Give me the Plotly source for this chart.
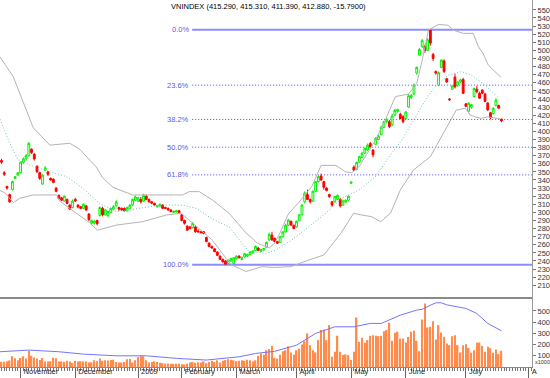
import plotly.graph_objects as go

# ---------------- data ----------------
# trading-day index: 0 = 3 Nov 2008 (first session of November)
day_idx = list(range(-7, 177))

opens = [
    364, 349, 332, 322, 328, 342, 346,                      # late Oct
    349, 362, 366, 370, 378, 372, 357, 349, 335, 352,       # Nov
    350, 342, 341, 330, 321, 318, 314, 316, 309, 306,
    316, 309, 307, 305, 308, 298, 287, 287, 290, 296,       # Dec
    305, 297, 296, 300, 304, 308, 306, 305, 305, 302,
    305, 309, 315,
    314, 316, 314, 320, 316, 313, 311, 307, 308, 309,       # Jan
    306, 305, 303, 300, 300.5, 302,
    297, 290, 283, 282, 281, 282, 277, 276, 276, 269,       # Feb
    262, 258, 255, 251, 246, 242, 240, 237, 240, 237,
    243, 246, 242, 245, 246, 248, 250, 253, 256, 252,       # Mar
    254, 257, 266, 272, 268, 264, 263, 270, 276, 284,
    289, 284,
    282, 290, 297, 313, 322, 316, 314, 326, 338, 345,       # Apr
    338, 330, 322, 313, 313, 316, 316, 309, 313, 315,
    336, 356, 353, 362, 368, 373, 377, 385, 377, 384,       # May
    390, 396, 405, 412, 412, 408, 420, 425, 421, 418,
    416, 430, 442, 446, 472, 494, 505, 505, 500, 525,       # Jun
    495, 474, 457, 479, 487, 465, 440, 452, 467, 457,
    461, 464,
    434, 425, 430, 443, 452, 447, 451, 446, 435, 423,       # Jul
    422, 432, 432, 415.29,
]
highs = [
    366, 351, 333, 323, 339, 345, 350,
    363, 368, 372, 387, 379, 373, 358, 350, 347, 357,
    351, 343, 342, 331, 322, 319, 321, 317, 310, 316,
    318, 310, 308, 311, 309, 299, 291, 290, 291, 307,
    307, 304, 302, 306, 309, 315, 307, 306, 306, 307,
    310, 317, 321,
    319, 319, 323, 322, 317, 314, 312, 309, 311, 310,
    307, 306, 304, 302, 303, 303,
    298, 291, 284, 283, 288, 283, 279, 277, 277, 270,
    263, 259, 256, 252, 247, 243, 241, 242, 244, 245,
    247, 247, 245, 250, 249, 252, 253, 259, 257, 255,
    256, 264, 275, 276, 269, 265, 271, 277, 286, 292,
    290, 285,
    290, 298, 310, 326, 328, 317, 327, 339, 346, 348,
    339, 331, 323, 314, 320, 322, 318, 316, 316, 321,
    338, 358, 363, 370, 375, 380, 385, 387, 378, 393,
    396, 407, 413, 417, 414, 422, 428, 428, 423, 420,
    425, 446, 446, 459, 480, 503, 514, 507, 515, 525.5,
    497, 475, 474, 489, 489, 466, 441, 457, 471, 462,
    465, 466,
    435, 436, 434, 454, 456, 449, 452, 448, 436, 424,
    430, 441, 433, 415.31,
]
lows = [
    360, 345, 328, 312, 327, 341, 345,
    348, 360, 364, 369, 372, 364, 349, 340, 334, 351,
    345, 339, 336, 325, 316, 314, 313, 310, 303, 305,
    313, 305, 304, 304, 302, 289, 285, 285, 284, 295,
    295, 296, 294, 299, 303, 307, 302, 302, 301, 301,
    304, 308, 314,
    313, 311, 313, 315, 312, 310, 308, 306, 307, 304,
    304, 302, 300, 299, 300, 298,
    289, 285, 277, 279, 280, 275, 275, 274, 273, 263,
    257, 255, 251, 246, 241, 238, 235.5, 236, 239, 236,
    242, 243, 241, 244, 245, 247, 249, 252, 252, 251,
    252, 256, 265, 265, 263, 261, 262, 269, 275, 283,
    283, 279,
    281, 289, 296, 311, 315, 311, 313, 325, 337, 339,
    328, 326, 318, 307, 312, 315, 306, 308, 311, 314,
    335, 351, 352, 361, 367, 372, 376, 380, 368, 383,
    389, 395, 404, 410, 404, 406, 419, 423, 415, 410,
    415, 429, 440, 445, 470, 493, 503, 497, 499, 506,
    487, 470, 456, 478, 472, 460, 438, 451, 453, 455,
    460, 446,
    430, 423, 428, 442, 447, 440, 446, 436, 425, 415,
    421, 431, 428, 411.39,
]
closes = [
    362, 347, 330, 313, 338, 344, 349,
    362, 366, 370, 385, 374, 366, 350, 342, 346, 355,
    347, 340, 337, 326, 317, 315, 320, 311, 304, 314,
    314, 306.6, 305, 310, 303, 291, 290, 289, 286, 306,
    297, 303, 301, 305, 307, 313, 304, 303, 302, 306,
    309, 316, 319,
    318, 313, 321, 316, 313, 311.5, 309, 308.5, 310, 305,
    305, 303, 301, 301.5, 302, 299,
    290, 286.5, 278, 280, 286.5, 276, 276, 275, 274, 264,
    258, 256, 251.5, 247, 242, 239, 236, 241, 243, 244,
    246, 244, 244.5, 249, 248, 251, 252.5, 258, 253, 254,
    255.5, 263, 273, 266, 264, 262, 270, 276, 284, 290.5,
    284.5, 280,
    289, 297, 309, 324, 316, 313, 326, 338, 344, 340,
    331, 327, 319.5, 309, 319.5, 321, 308, 314, 315, 320,
    337.5, 352, 361.5, 368.8, 373, 379, 383, 381, 371, 391.5,
    394, 405, 412, 415, 406, 419, 426, 427, 416, 412,
    424, 444, 444.5, 457, 479, 501, 512, 500, 513, 509,
    490, 472, 472.5, 488, 474, 461, 439, 456, 455, 461,
    463.5, 447,
    431, 434.7, 433, 453, 449, 441, 447, 437, 426.5, 417,
    428.5, 438.5, 428.67, 412.88,
]
# volume, thousands of shares
volumes = [
    46, 46, 52, 58, 97, 77, 60,
    80, 95, 76, 145, 100, 85, 75, 62, 80, 50,
    48, 52, 83, 78, 50, 50, 46, 55, 50, 35,
    55, 48, 52, 50, 48, 40, 42, 60, 52, 75,
    55, 60, 58, 62, 65, 45, 40, 40, 45, 70,
    72, 40, 60,
    90, 100, 95, 60, 40, 45, 50, 45, 38, 35,
    30, 32, 30, 28, 30, 30,
    25, 22, 30, 40, 45, 38, 42, 40, 50, 35,
    45, 55, 45, 60, 40, 55, 62, 70, 65, 60,
    52, 55, 60, 55, 65, 60, 48, 60, 100, 120,
    110, 150, 160, 190, 80, 75, 110, 140, 150, 185,
    130, 110,
    150, 165, 200, 230, 300, 195, 150, 130, 240, 330,
    335, 240, 374, 91, 136, 279, 136, 106, 112, 106,
    62, 136, 442, 225, 260, 216, 240, 278, 284, 278,
    275, 278, 320, 330, 395, 234, 305, 315, 254, 254,
    219, 269, 315, 323, 234, 141, 424, 567, 353, 359,
    409, 246, 374, 308, 269, 210, 195, 275, 284, 195,
    130, 195,
    204, 171, 127, 150, 216, 219, 189, 136, 180, 168,
    127, 157, 115, 145,
]

# Bollinger bands (day index, value)
bb_up_x = [-7.55, -2.7, 4.6, 10.7, 18.0, 21.6, 27.7, 30.0, 33.8, 41.0, 46.0, 59.3,
           61.7, 65.4, 70.2, 75.1, 76.3, 82.4, 86.7, 91.0, 93.0, 95.0, 98.0, 102.0,
           106.6, 110.0, 115.4, 119.0, 121.2, 123.8, 129.9, 133.5, 137.2, 142.0,
           145.0, 147.0, 149.3, 152.9, 156.6, 158.4, 162.0, 165.7, 167.5, 169.3,
           171.2, 172.9, 175.8]
bb_up_y = [492, 467.5, 404.6, 383, 385.3, 378, 356, 343, 331, 321.5, 321.5, 321.5,
           325.6, 325.6, 315.3, 303, 299, 275, 262, 256, 262, 275, 298, 313,
           332, 358, 358, 350, 349, 356, 389, 414, 443, 446,
           459, 488, 525, 532, 531, 525, 521, 521, 505, 496,
           482, 476, 467]
bb_mid_x = [-7.55, -3.9, -1.0, 4.5, 16.9, 22.7, 28.9, 35.1, 39.9, 50.8, 59.2, 64.3,
            70.1, 76.3, 81.1, 83.6, 86.2, 89.8, 93.5, 99.3, 105.5, 111.7, 117.6,
            123.8, 129.9, 135.8, 139.5, 144.5, 149.3, 152.9, 156.6, 161.4, 165.0,
            170.0, 174.8]
bb_mid_y = [415, 385, 365, 357, 344, 330, 311, 301, 303, 309, 309, 305,
            292, 282, 262, 251.5, 251, 249.5, 253.6, 266, 282.4, 299, 317.4,
            327.7, 344, 373, 389, 418, 445, 459, 469.6, 473.7, 469.6,
            457, 442]
bb_lo_x = [-7.55, -5.7, -2.7, -0.3, 4.5, 13.2, 14.3, 20.5, 25.3, 28.2, 35.1, 44.6,
           53.4, 58.8, 61.7, 70.1, 75.2, 77.4, 82.5, 88.4, 92.7, 98.9, 103.7, 111.0,
           117.2, 121.9, 124.5, 128.5, 131.8, 135.4, 139.0, 143.8, 150.0, 154.8,
           159.5, 162.8, 164.6, 166.4, 168.6, 171.2, 173.7, 175.6]
bb_lo_y = [327, 324, 312, 317.4, 321.5, 321.5, 314, 299, 287, 278, 284.4, 288.5,
           296.8, 299, 290.6, 266, 243.3, 235, 227, 233, 232, 233, 239, 247.4,
           274, 299, 297, 294.7, 288.5, 299, 327.7, 352.3, 368.8, 397.7,
           426.4, 428.5, 420.2, 418, 416, 418, 416, 415.3]

# moving average of volume (day index, thousands)
vma_x = [-7.55, 3, 14, 23, 35, 46, 57, 68, 80, 86, 93, 101, 108, 115, 122, 128, 132,
         139, 145, 147, 150, 152, 154, 156, 163, 167, 171, 176]
vma_y = [136, 151, 136, 115, 100, 100, 77, 62, 91, 121, 140, 195, 300, 359, 359, 389, 389,
         463, 508, 515, 552, 573, 573, 555, 523, 478, 389, 323]

# Fibonacci retracement
fib_high = 525.5
fib_low = 235.5
fib_ratios = [0.0, 0.236, 0.382, 0.5, 0.618, 1.0]
fib_labels = ["0.0%", "23.6%", "38.2%", "50.0%", "61.8%", "100.0%"]
fib_start = 62.8

# axes
month_idx = [0, 20, 43, 59, 79, 101, 121, 141, 163, 186]
month_labels = ["November", "December", "2009", "February", "March", "April",
                "May", "June", "July", "A"]
price_ticks = [210, 220, 230, 240, 250, 260, 270, 280, 290, 300, 310, 320, 330, 340,
               350, 360, 370, 380, 390, 400, 410, 420, 430, 440, 450, 460, 470, 480,
               490, 500, 510, 520, 530, 540, 550]
volume_ticks = [100, 200, 300, 400, 500]
header = "VNINDEX (415.290, 415.310, 411.390, 412.880, -15.7900)"

X_MIN, X_MAX = -7.55, 187.2
FONT = "Liberation Sans"

# ---------------- figure ----------------
fig = go.Figure()
fig.add_trace(go.Scatter(x=bb_up_x, y=bb_up_y, mode="lines",
                         line=dict(color="#b4b4b4", width=1), hoverinfo="skip"))
fig.add_trace(go.Scatter(x=bb_lo_x, y=bb_lo_y, mode="lines",
                         line=dict(color="#b4b4b4", width=1), hoverinfo="skip"))
fig.add_trace(go.Scatter(x=bb_mid_x, y=bb_mid_y, mode="lines",
                         line=dict(color="#6cc0c0", width=1, dash="1px,2px"),
                         hoverinfo="skip"))

for r, lab in zip(fib_ratios, fib_labels):
    lvl = fib_high - r * (fib_high - fib_low)
    solid = r in (0.0, 1.0)
    fig.add_shape(type="line", xref="x", yref="y", x0=fib_start, x1=X_MAX, y0=lvl, y1=lvl,
                  line=dict(color="#8c8cff" if solid else "#4a4aff",
                            width=2 if solid else 1, dash="solid" if solid else "1px,2px"),
                  layer="below")
    fig.add_annotation(x=fib_start, y=lvl, xref="x", yref="y", text=lab, showarrow=False,
                       xanchor="right", yanchor="middle", xshift=-1,
                       font=dict(size=7.5, color="#5a5ae6", family=FONT))

fig.add_trace(go.Candlestick(
    x=day_idx, open=opens, high=highs, low=lows, close=closes,
    increasing=dict(line=dict(color="#00f000", width=1), fillcolor="#ffffff"),
    decreasing=dict(line=dict(color="#ff0000", width=1), fillcolor="#ff0000"),
    whiskerwidth=0, xaxis="x", yaxis="y", hoverinfo="skip"))

fig.add_trace(go.Bar(x=day_idx, y=volumes, width=0.55, xaxis="x2", yaxis="y2",
                     marker=dict(color="#ff8c4c", line=dict(width=0)), hoverinfo="skip"))
fig.add_trace(go.Scatter(x=vma_x, y=vma_y, mode="lines", xaxis="x2", yaxis="y2",
                         line=dict(color="#7474ff", width=1), hoverinfo="skip"))

fig.add_annotation(xref="paper", yref="paper", x=170 / 534, y=1, xanchor="left",
                   yanchor="top", text=header, showarrow=False,
                   font=dict(size=7.5, color="#000000", family=FONT))
fig.add_annotation(xref="paper", yref="y2", x=1, y=0, xanchor="left", yanchor="bottom",
                   xshift=1, text="x1000", showarrow=False,
                   font=dict(size=5.5, color="#333333", family=FONT))

fig.update_layout(
    width=550, height=378,
    margin=dict(l=0, r=16, t=0, b=11),
    paper_bgcolor="white", plot_bgcolor="white",
    showlegend=False, boxgap=0.05,
    xaxis=dict(domain=[0, 1], range=[X_MIN, X_MAX], anchor="y", showticklabels=False,
               showgrid=False, zeroline=False, showline=True, linecolor="#8a8a8a",
               linewidth=2, ticks="", rangeslider=dict(visible=False), fixedrange=True),
    yaxis=dict(domain=[0.19, 1], range=[195.2, 562.2], side="right", anchor="x",
               tickmode="array", tickvals=price_ticks, ticks="outside", ticklen=3,
               tickcolor="#777777", tickfont=dict(size=7.5, color="#333333", family=FONT),
               showgrid=False, zeroline=False, showline=True, linecolor="#9a9a9a",
               linewidth=1),
    xaxis2=dict(domain=[0, 1], range=[X_MIN, X_MAX], anchor="y2", tickmode="array",
                tickvals=month_idx, ticktext=month_labels, ticks="outside", ticklen=11,
                tickcolor="#666666", ticklabelposition="outside right",
                ticklabelstandoff=-3, ticklabelshift=2,
                tickfont=dict(size=7.5, color="#222222", family=FONT),
                minor=dict(tickmode="linear", tick0=0, dtick=1, ticks="outside",
                           ticklen=3, tickcolor="#777777"),
                showgrid=False, zeroline=False, showline=True, linecolor="#8a8a8a",
                linewidth=1),
    yaxis2=dict(domain=[0, 0.188], range=[0, 616], side="right", anchor="x2",
                tickmode="array", tickvals=volume_ticks, ticks="outside", ticklen=3,
                tickcolor="#777777", tickfont=dict(size=7.5, color="#333333", family=FONT),
                showgrid=False, zeroline=False, showline=True, linecolor="#9a9a9a",
                linewidth=1),
)

fig.write_html("out.html", config={"displayModeBar": False},
               post_script="document.body.style.margin='0px';document.body.style.padding='0px';")
